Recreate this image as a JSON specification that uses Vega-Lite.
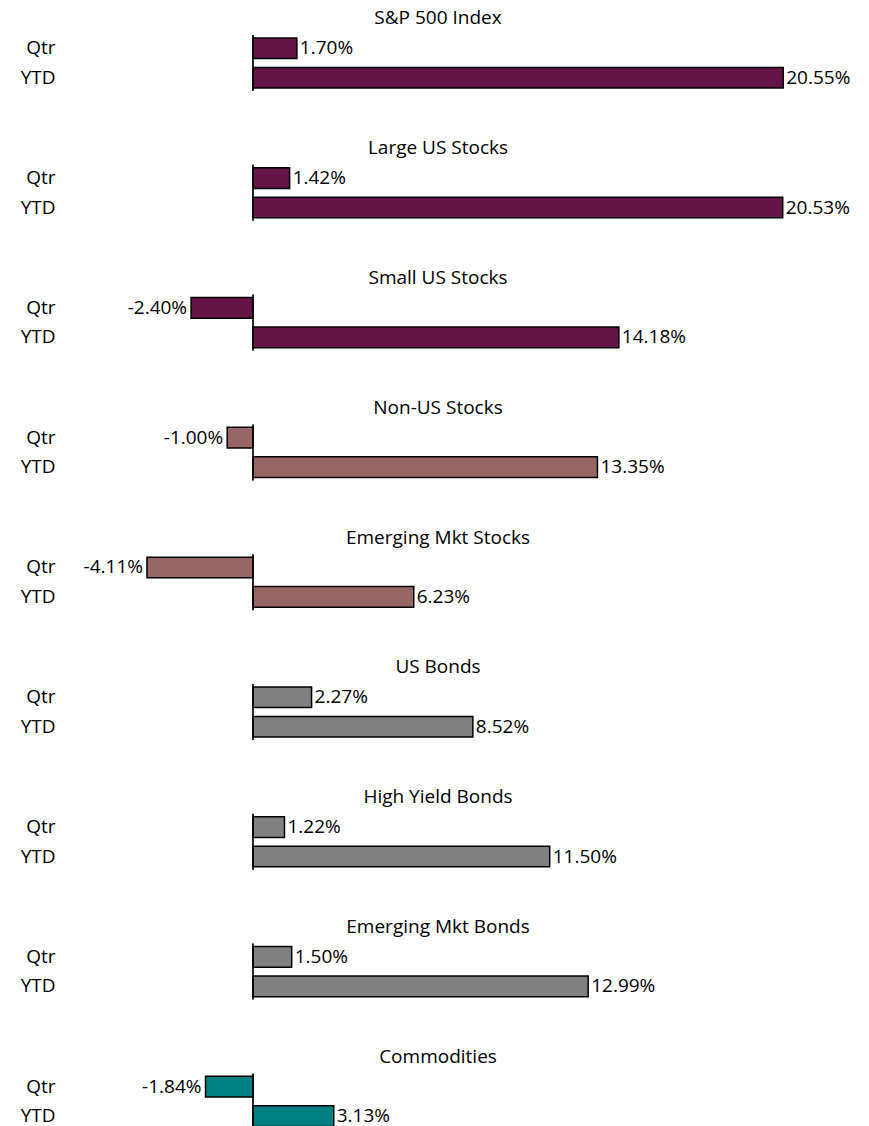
{
  "$schema": "https://vega.github.io/schema/vega-lite/v6.json",
  "padding": {"left": 20, "top": 9, "right": 0, "bottom": -4},
  "config": {
    "view": {"stroke": null},
    "font": "Open Sans",
    "locale": {"number": {"decimal": ".", "thousands": ",", "grouping": [3], "currency": ["$", ""], "minus": "-"}}
  },
  "data": {"values": [
    {"category": "S&P 500 Index", "period": "Qtr", "value": 0.0170},
    {"category": "S&P 500 Index", "period": "YTD", "value": 0.2055},
    {"category": "Large US Stocks", "period": "Qtr", "value": 0.0142},
    {"category": "Large US Stocks", "period": "YTD", "value": 0.2053},
    {"category": "Small US Stocks", "period": "Qtr", "value": -0.0240},
    {"category": "Small US Stocks", "period": "YTD", "value": 0.1418},
    {"category": "Non-US Stocks", "period": "Qtr", "value": -0.0100},
    {"category": "Non-US Stocks", "period": "YTD", "value": 0.1335},
    {"category": "Emerging Mkt Stocks", "period": "Qtr", "value": -0.0411},
    {"category": "Emerging Mkt Stocks", "period": "YTD", "value": 0.0623},
    {"category": "US Bonds", "period": "Qtr", "value": 0.0227},
    {"category": "US Bonds", "period": "YTD", "value": 0.0852},
    {"category": "High Yield Bonds", "period": "Qtr", "value": 0.0122},
    {"category": "High Yield Bonds", "period": "YTD", "value": 0.1150},
    {"category": "Emerging Mkt Bonds", "period": "Qtr", "value": 0.0150},
    {"category": "Emerging Mkt Bonds", "period": "YTD", "value": 0.1299},
    {"category": "Commodities", "period": "Qtr", "value": -0.0184},
    {"category": "Commodities", "period": "YTD", "value": 0.0313}
  ]},
  "facet": {
    "field": "category",
    "type": "nominal",
    "sort": ["S&P 500 Index", "Large US Stocks", "Small US Stocks", "Non-US Stocks", "Emerging Mkt Stocks", "US Bonds", "High Yield Bonds", "Emerging Mkt Bonds", "Commodities"],
    "header": {"title": null, "labelFontSize": 19, "labelColor": "black", "labelPadding": 6, "labelFont": "Open Sans"}
  },
  "columns": 1,
  "spacing": 46.8,
  "spec": {
    "width": 756,
    "height": 56,
    "layer": [
      {
        "mark": {"type": "bar", "stroke": "black", "strokeWidth": 1.5},
        "encoding": {
          "y": {"field": "period", "type": "nominal", "sort": ["Qtr", "YTD"], "scale": {"paddingInner": 0.3, "paddingOuter": 0.1},
                "axis": {"title": null, "domain": false, "ticks": false, "labelFontSize": 19, "labelColor": "black", "labelPadding": 5, "labelFont": "Open Sans"}},
          "x": {"field": "value", "type": "quantitative", "scale": {"domain": [-0.0748, 0.2182], "nice": false, "zero": false}, "axis": null},
          "color": {"field": "category", "type": "nominal", "legend": null,
                    "scale": {"domain": ["S&P 500 Index", "Large US Stocks", "Small US Stocks", "Non-US Stocks", "Emerging Mkt Stocks", "US Bonds", "High Yield Bonds", "Emerging Mkt Bonds", "Commodities"],
                              "range": ["#641446", "#641446", "#641446", "#996666", "#996666", "#808080", "#808080", "#808080", "#008080"]}}
        }
      },
      {
        "mark": {"type": "rule", "color": "black", "strokeWidth": 1.2},
        "encoding": {"x": {"datum": 0}}
      },
      {
        "transform": [{"filter": "datum.value >= 0"}],
        "mark": {"type": "text", "align": "left", "baseline": "middle", "dx": 3, "fontSize": 19, "color": "black"},
        "encoding": {
          "y": {"field": "period", "type": "nominal", "sort": ["Qtr", "YTD"]},
          "x": {"field": "value", "type": "quantitative"},
          "text": {"field": "value", "type": "quantitative", "format": ".2%"}
        }
      },
      {
        "transform": [{"filter": "datum.value < 0"}],
        "mark": {"type": "text", "align": "right", "baseline": "middle", "dx": -4, "fontSize": 19, "color": "black"},
        "encoding": {
          "y": {"field": "period", "type": "nominal", "sort": ["Qtr", "YTD"]},
          "x": {"field": "value", "type": "quantitative"},
          "text": {"field": "value", "type": "quantitative", "format": ".2%"}
        }
      }
    ]
  }
}
